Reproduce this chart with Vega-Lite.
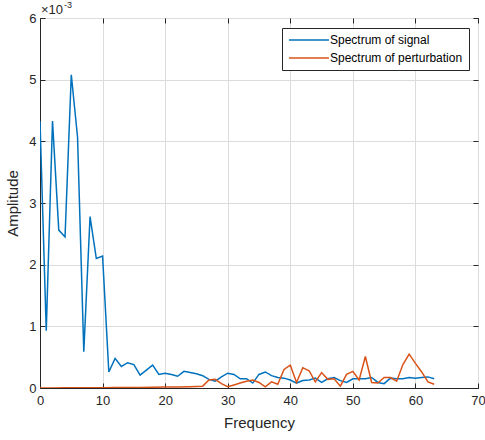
{
  "$schema": "https://vega.github.io/schema/vega-lite/v6.json",
  "width": 438,
  "height": 370,
  "autosize": "none",
  "padding": {"left": 40, "top": 18, "right": 7, "bottom": 52},
  "background": "white",
  "config": {
    "font": "Liberation Sans",
    "view": {"stroke": "#262626", "strokeWidth": 1},
    "axis": {
      "labelFont": "Liberation Sans",
      "titleFont": "Liberation Sans",
      "labelFontSize": 13,
      "titleFontSize": 15,
      "titleFontWeight": "normal",
      "labelColor": "#262626",
      "titleColor": "#262626",
      "domainColor": "#262626",
      "tickColor": "#262626",
      "gridColor": "#dcdcdc",
      "gridWidth": 1,
      "tickSize": -5,
      "domainWidth": 1
    }
  },
  "datasets": {
    "spectra": [
      {"freq": 0, "amp": 4.33, "series": "Spectrum of signal"},
      {"freq": 1, "amp": 0.93, "series": "Spectrum of signal"},
      {"freq": 2, "amp": 4.33, "series": "Spectrum of signal"},
      {"freq": 3, "amp": 2.56, "series": "Spectrum of signal"},
      {"freq": 4, "amp": 2.45, "series": "Spectrum of signal"},
      {"freq": 5, "amp": 5.08, "series": "Spectrum of signal"},
      {"freq": 6, "amp": 4.07, "series": "Spectrum of signal"},
      {"freq": 7, "amp": 0.59, "series": "Spectrum of signal"},
      {"freq": 8, "amp": 2.78, "series": "Spectrum of signal"},
      {"freq": 9, "amp": 2.1, "series": "Spectrum of signal"},
      {"freq": 10, "amp": 2.14, "series": "Spectrum of signal"},
      {"freq": 11, "amp": 0.26, "series": "Spectrum of signal"},
      {"freq": 12, "amp": 0.48, "series": "Spectrum of signal"},
      {"freq": 13, "amp": 0.35, "series": "Spectrum of signal"},
      {"freq": 14, "amp": 0.41, "series": "Spectrum of signal"},
      {"freq": 15, "amp": 0.38, "series": "Spectrum of signal"},
      {"freq": 16, "amp": 0.21, "series": "Spectrum of signal"},
      {"freq": 17, "amp": 0.29, "series": "Spectrum of signal"},
      {"freq": 18, "amp": 0.37, "series": "Spectrum of signal"},
      {"freq": 19, "amp": 0.22, "series": "Spectrum of signal"},
      {"freq": 20, "amp": 0.24, "series": "Spectrum of signal"},
      {"freq": 21, "amp": 0.22, "series": "Spectrum of signal"},
      {"freq": 22, "amp": 0.19, "series": "Spectrum of signal"},
      {"freq": 23, "amp": 0.27, "series": "Spectrum of signal"},
      {"freq": 24, "amp": 0.25, "series": "Spectrum of signal"},
      {"freq": 25, "amp": 0.23, "series": "Spectrum of signal"},
      {"freq": 26, "amp": 0.2, "series": "Spectrum of signal"},
      {"freq": 27, "amp": 0.14, "series": "Spectrum of signal"},
      {"freq": 28, "amp": 0.11, "series": "Spectrum of signal"},
      {"freq": 29, "amp": 0.18, "series": "Spectrum of signal"},
      {"freq": 30, "amp": 0.24, "series": "Spectrum of signal"},
      {"freq": 31, "amp": 0.22, "series": "Spectrum of signal"},
      {"freq": 32, "amp": 0.15, "series": "Spectrum of signal"},
      {"freq": 33, "amp": 0.15, "series": "Spectrum of signal"},
      {"freq": 34, "amp": 0.08, "series": "Spectrum of signal"},
      {"freq": 35, "amp": 0.22, "series": "Spectrum of signal"},
      {"freq": 36, "amp": 0.26, "series": "Spectrum of signal"},
      {"freq": 37, "amp": 0.2, "series": "Spectrum of signal"},
      {"freq": 38, "amp": 0.17, "series": "Spectrum of signal"},
      {"freq": 39, "amp": 0.16, "series": "Spectrum of signal"},
      {"freq": 40, "amp": 0.13, "series": "Spectrum of signal"},
      {"freq": 41, "amp": 0.08, "series": "Spectrum of signal"},
      {"freq": 42, "amp": 0.12, "series": "Spectrum of signal"},
      {"freq": 43, "amp": 0.13, "series": "Spectrum of signal"},
      {"freq": 44, "amp": 0.16, "series": "Spectrum of signal"},
      {"freq": 45, "amp": 0.09, "series": "Spectrum of signal"},
      {"freq": 46, "amp": 0.15, "series": "Spectrum of signal"},
      {"freq": 47, "amp": 0.17, "series": "Spectrum of signal"},
      {"freq": 48, "amp": 0.12, "series": "Spectrum of signal"},
      {"freq": 49, "amp": 0.09, "series": "Spectrum of signal"},
      {"freq": 50, "amp": 0.15, "series": "Spectrum of signal"},
      {"freq": 51, "amp": 0.15, "series": "Spectrum of signal"},
      {"freq": 52, "amp": 0.15, "series": "Spectrum of signal"},
      {"freq": 53, "amp": 0.17, "series": "Spectrum of signal"},
      {"freq": 54, "amp": 0.09, "series": "Spectrum of signal"},
      {"freq": 55, "amp": 0.07, "series": "Spectrum of signal"},
      {"freq": 56, "amp": 0.16, "series": "Spectrum of signal"},
      {"freq": 57, "amp": 0.15, "series": "Spectrum of signal"},
      {"freq": 58, "amp": 0.15, "series": "Spectrum of signal"},
      {"freq": 59, "amp": 0.17, "series": "Spectrum of signal"},
      {"freq": 60, "amp": 0.16, "series": "Spectrum of signal"},
      {"freq": 61, "amp": 0.17, "series": "Spectrum of signal"},
      {"freq": 62, "amp": 0.18, "series": "Spectrum of signal"},
      {"freq": 63, "amp": 0.15, "series": "Spectrum of signal"},
      {"freq": 0, "amp": 0.0, "series": "Spectrum of perturbation"},
      {"freq": 2, "amp": 0.0, "series": "Spectrum of perturbation"},
      {"freq": 4, "amp": 0.003, "series": "Spectrum of perturbation"},
      {"freq": 6, "amp": 0.004, "series": "Spectrum of perturbation"},
      {"freq": 8, "amp": 0.005, "series": "Spectrum of perturbation"},
      {"freq": 10, "amp": 0.006, "series": "Spectrum of perturbation"},
      {"freq": 12, "amp": 0.007, "series": "Spectrum of perturbation"},
      {"freq": 14, "amp": 0.008, "series": "Spectrum of perturbation"},
      {"freq": 16, "amp": 0.01, "series": "Spectrum of perturbation"},
      {"freq": 18, "amp": 0.012, "series": "Spectrum of perturbation"},
      {"freq": 20, "amp": 0.015, "series": "Spectrum of perturbation"},
      {"freq": 22, "amp": 0.018, "series": "Spectrum of perturbation"},
      {"freq": 24, "amp": 0.022, "series": "Spectrum of perturbation"},
      {"freq": 25, "amp": 0.025, "series": "Spectrum of perturbation"},
      {"freq": 26, "amp": 0.03, "series": "Spectrum of perturbation"},
      {"freq": 27, "amp": 0.13, "series": "Spectrum of perturbation"},
      {"freq": 28, "amp": 0.14, "series": "Spectrum of perturbation"},
      {"freq": 29, "amp": 0.07, "series": "Spectrum of perturbation"},
      {"freq": 30, "amp": 0.02, "series": "Spectrum of perturbation"},
      {"freq": 31, "amp": 0.05, "series": "Spectrum of perturbation"},
      {"freq": 32, "amp": 0.08, "series": "Spectrum of perturbation"},
      {"freq": 33, "amp": 0.11, "series": "Spectrum of perturbation"},
      {"freq": 34, "amp": 0.13, "series": "Spectrum of perturbation"},
      {"freq": 35, "amp": 0.09, "series": "Spectrum of perturbation"},
      {"freq": 36, "amp": 0.02, "series": "Spectrum of perturbation"},
      {"freq": 37, "amp": 0.1, "series": "Spectrum of perturbation"},
      {"freq": 38, "amp": 0.06, "series": "Spectrum of perturbation"},
      {"freq": 39, "amp": 0.3, "series": "Spectrum of perturbation"},
      {"freq": 40, "amp": 0.37, "series": "Spectrum of perturbation"},
      {"freq": 41, "amp": 0.09, "series": "Spectrum of perturbation"},
      {"freq": 42, "amp": 0.33, "series": "Spectrum of perturbation"},
      {"freq": 43, "amp": 0.28, "series": "Spectrum of perturbation"},
      {"freq": 44, "amp": 0.1, "series": "Spectrum of perturbation"},
      {"freq": 45, "amp": 0.25, "series": "Spectrum of perturbation"},
      {"freq": 46, "amp": 0.14, "series": "Spectrum of perturbation"},
      {"freq": 47, "amp": 0.15, "series": "Spectrum of perturbation"},
      {"freq": 48, "amp": 0.03, "series": "Spectrum of perturbation"},
      {"freq": 49, "amp": 0.22, "series": "Spectrum of perturbation"},
      {"freq": 50, "amp": 0.27, "series": "Spectrum of perturbation"},
      {"freq": 51, "amp": 0.13, "series": "Spectrum of perturbation"},
      {"freq": 52, "amp": 0.51, "series": "Spectrum of perturbation"},
      {"freq": 53, "amp": 0.09, "series": "Spectrum of perturbation"},
      {"freq": 54, "amp": 0.08, "series": "Spectrum of perturbation"},
      {"freq": 55, "amp": 0.17, "series": "Spectrum of perturbation"},
      {"freq": 56, "amp": 0.17, "series": "Spectrum of perturbation"},
      {"freq": 57, "amp": 0.11, "series": "Spectrum of perturbation"},
      {"freq": 58, "amp": 0.38, "series": "Spectrum of perturbation"},
      {"freq": 59, "amp": 0.55, "series": "Spectrum of perturbation"},
      {"freq": 60, "amp": 0.4, "series": "Spectrum of perturbation"},
      {"freq": 61, "amp": 0.26, "series": "Spectrum of perturbation"},
      {"freq": 62, "amp": 0.1, "series": "Spectrum of perturbation"},
      {"freq": 63, "amp": 0.06, "series": "Spectrum of perturbation"}
    ],
    "exponent": [
      {"freq": 0, "amp": 6, "base": "×10", "power": "-3"}
    ]
  },
  "layer": [
    {
      "data": {"name": "spectra"},
      "mark": {"type": "line", "strokeWidth": 1.5, "clip": true},
      "encoding": {
        "x": {
          "field": "freq",
          "type": "quantitative",
          "scale": {"domain": [0, 70], "nice": false, "zero": false},
          "axis": {"title": "Frequency", "values": [0, 10, 20, 30, 40, 50, 60, 70], "grid": true, "labelPadding": 11, "titlePadding": 8, "labelFlush": false}
        },
        "y": {
          "field": "amp",
          "type": "quantitative",
          "scale": {"domain": [0, 6], "nice": false},
          "axis": {"title": "Amplitude", "values": [0, 1, 2, 3, 4, 5, 6], "grid": true, "labelPadding": 9, "titlePadding": 8, "labelFlush": false}
        },
        "color": {
          "field": "series",
          "type": "nominal",
          "sort": null,
          "scale": {"domain": ["Spectrum of signal", "Spectrum of perturbation"], "range": ["#0072BD", "#D95319"]},
          "legend": {
            "title": null,
            "orient": "none",
            "legendX": 242,
            "legendY": 10,
            "direction": "vertical",
            "symbolType": "M-1,0H7",
            "symbolSize": 100,
            "symbolStrokeWidth": 1.5,
            "labelOffset": 30,
            "labelFontSize": 12,
            "labelFont": "Liberation Sans",
            "labelColor": "#000000",
            "rowPadding": 6,
            "padding": 6,
            "strokeColor": "#262626",
            "fillColor": "white",
            "cornerRadius": 0,
            "labelLimit": 300
          }
        },
        "order": {"field": "freq", "type": "quantitative"}
      }
    },
    {
      "data": {"name": "exponent"},
      "mark": {"type": "text", "align": "left", "baseline": "alphabetic", "dx": 1, "dy": -4, "fontSize": 13, "font": "Liberation Sans", "color": "#262626"},
      "encoding": {
        "x": {"field": "freq", "type": "quantitative", "axis": {"orient": "top", "labels": false, "title": null, "grid": false, "values": [0, 10, 20, 30, 40, 50, 60, 70], "domain": false}},
        "y": {"field": "amp", "type": "quantitative", "axis": {"orient": "right", "labels": false, "title": null, "grid": false, "values": [0, 1, 2, 3, 4, 5, 6], "domain": false}},
        "text": {"field": "base"}
      }
    },
    {
      "data": {"name": "exponent"},
      "mark": {"type": "text", "align": "left", "baseline": "alphabetic", "dx": 24, "dy": -10, "fontSize": 9, "font": "Liberation Sans", "color": "#262626"},
      "encoding": {
        "x": {"field": "freq", "type": "quantitative", "axis": null},
        "y": {"field": "amp", "type": "quantitative", "axis": null},
        "text": {"field": "power"}
      }
    }
  ],
  "resolve": {"axis": {"x": "independent", "y": "independent"}}
}
